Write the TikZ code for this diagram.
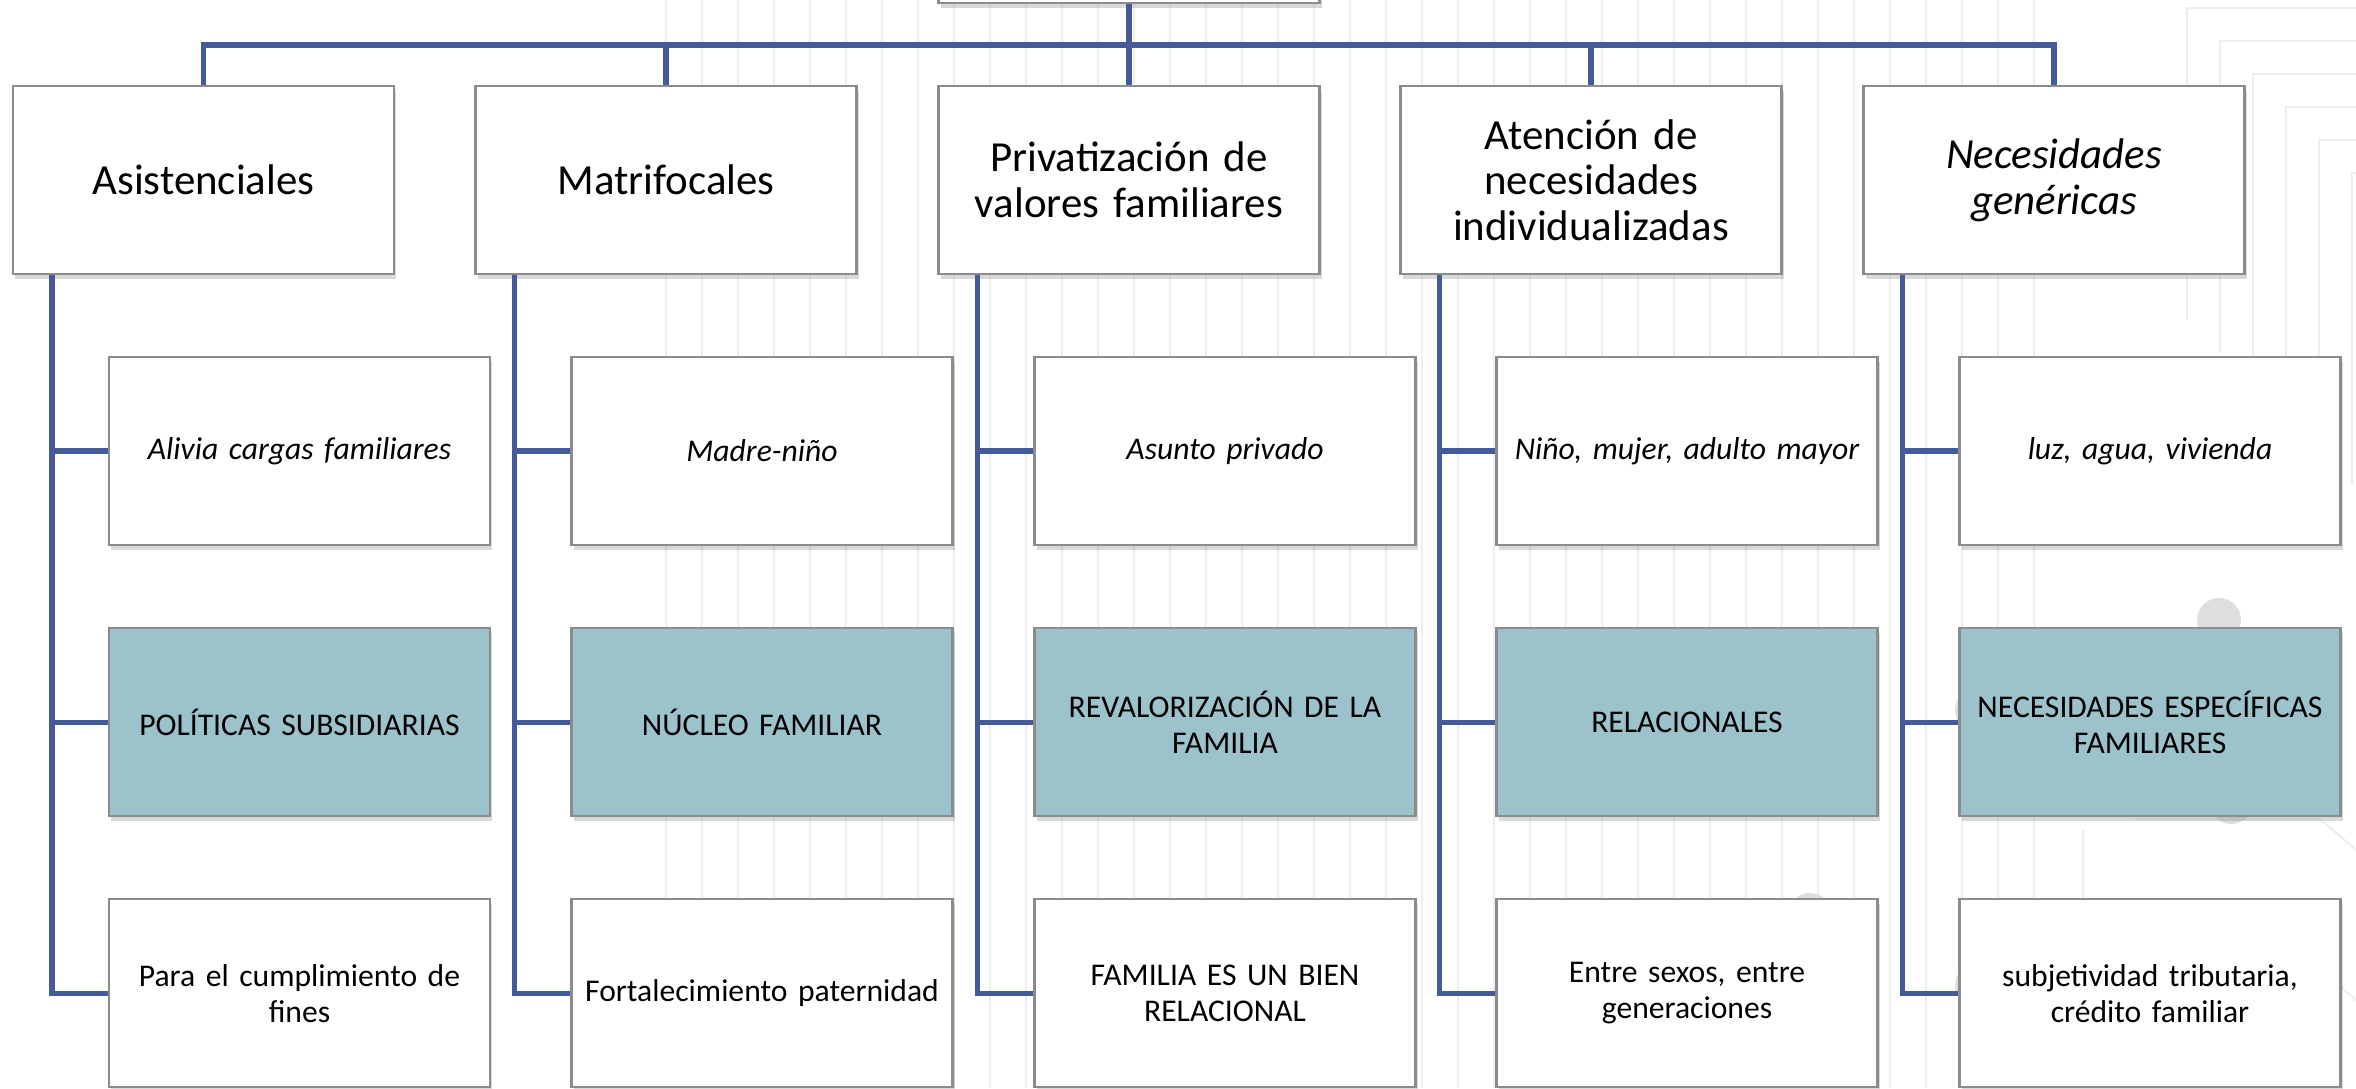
\documentclass[tikz,border=0pt]{standalone}
\usepackage{fontspec}
\setmainfont{Carlito}
\usetikzlibrary{positioning, shadows}
\definecolor{linkcolor}{RGB}{68,90,155}
\definecolor{focuscolor}{RGB}{156,195,203}
\definecolor{bgcolor}{RGB}{238,238,240}
\frenchspacing

\begin{document}
\begin{tikzpicture}[box/.style={rectangle, draw=black!45, line width=0.6pt, fill=white, minimum width=3.81cm, minimum height=1.88cm,
    text width=3.7cm, align=center, inner sep=0pt, drop shadow={shadow xshift=0.02cm, shadow yshift=-0.045cm, opacity=0.3}},
    head/.style={box, font=\fontsize{12.2}{13}\selectfont}, leaf/.style={box, font=\fontsize{9}{10.3}\selectfont},
    focus/.style={leaf, fill=focuscolor}, conn/.style={draw=linkcolor, line width=1.5pt},
    bgline/.style={draw=bgcolor, line width=0.6pt}, node distance=0.81cm]
    \useasboundingbox (0,0) rectangle (23.56,-10.88);
    \clip (0,0) rectangle (23.56,-10.88);

    % faint background pattern
    \foreach \x in {6.66,7.02,...,20.6} \draw[bgline] (\x,0) -- (\x,-10.88);
    \foreach \k in {0,...,5} \draw[bgline] (21.87+0.33*\k,-3.2-0.33*\k) |- (23.56,-0.08-0.33*\k);
    \draw[bgline] (21.37,-6.9) |- (23.2,-8.19) -- (23.56,-8.5);
    \draw[bgline] (20.83,-8.3) |- (23.0,-9.52) -- (23.56,-10.0);
    \fill[black!13] (22.19,-6.20) circle (0.22) (22.31,-8.02) circle (0.22) (19.77,-7.10) circle (0.22) (18.10,-9.15) circle (0.22) (19.77,-9.85) circle (0.22);

    \node[head] (root) at (11.29,0.91) {};

    \node[head] (a1) at (2.035,-1.80) {Asistenciales};
    \node[head] (a2) at (6.66,-1.80) {Matrifocales};
    \node[head] (a3) at (11.29,-1.80) {Privatización de\\valores familiares};
    \node[head] (a4) at (15.91,-1.80) {Atención de\\necesidades\\individualizadas};
    \node[head] (a5) at (20.54,-1.80) {\itshape Necesidades\\genéricas};

    \node[leaf, below=of a1, xshift=0.96cm] (a1x) {\itshape Alivia cargas familiares};
    \node[focus, below=of a1x] (a1y) {POLÍTICAS SUBSIDIARIAS};
    \node[leaf, below=of a1y] (a1z) {Para el cumplimiento de\\fines};

    \node[leaf, below=of a2, xshift=0.96cm] (a2x) {\itshape Madre-niño};
    \node[focus, below=of a2x] (a2y) {NÚCLEO FAMILIAR};
    \node[leaf, below=of a2y] (a2z) {Fortalecimiento paternidad};

    \node[leaf, below=of a3, xshift=0.96cm] (a3x) {\itshape Asunto privado};
    \node[focus, below=of a3x] (a3y) {REVALORIZACIÓN DE LA\\FAMILIA};
    \node[leaf, below=of a3y] (a3z) {FAMILIA ES UN BIEN\\RELACIONAL};

    \node[leaf, below=of a4, xshift=0.96cm] (a4x) {\itshape Niño, mujer, adulto mayor};
    \node[focus, below=of a4x] (a4y) {RELACIONALES};
    \node[leaf, below=of a4y] (a4z) {Entre sexos, entre\\generaciones};

    \node[leaf, below=of a5, xshift=0.96cm] (a5x) {\itshape luz, agua, vivienda};
    \node[focus, below=of a5x] (a5y) {NECESIDADES ESPECÍFICAS\\FAMILIARES};
    \node[leaf, below=of a5y] (a5z) {subjetividad tributaria,\\crédito familiar};

    % top bus
    \coordinate (bus) at (11.29,-0.45);
    \draw[conn] (root.south) -- (a3.north);
    \draw[conn] (a1.north) |- (bus) -| (a5.north);
    \draw[conn] (bus -| a2.north) -- (a2.north);
    \draw[conn] (bus -| a4.north) -- (a4.north);

    % spines
    \foreach \c in {a1,a2,a3,a4,a5} {
      \coordinate (\c s) at ([xshift=0.40cm]\c.south west);
      \draw[conn] (\c s) |- (\c z.west);
      \draw[conn] (\c s |- \c x.west) -- (\c x.west);
      \draw[conn] (\c s |- \c y.west) -- (\c y.west);
    }
\end{tikzpicture}
\end{document}
